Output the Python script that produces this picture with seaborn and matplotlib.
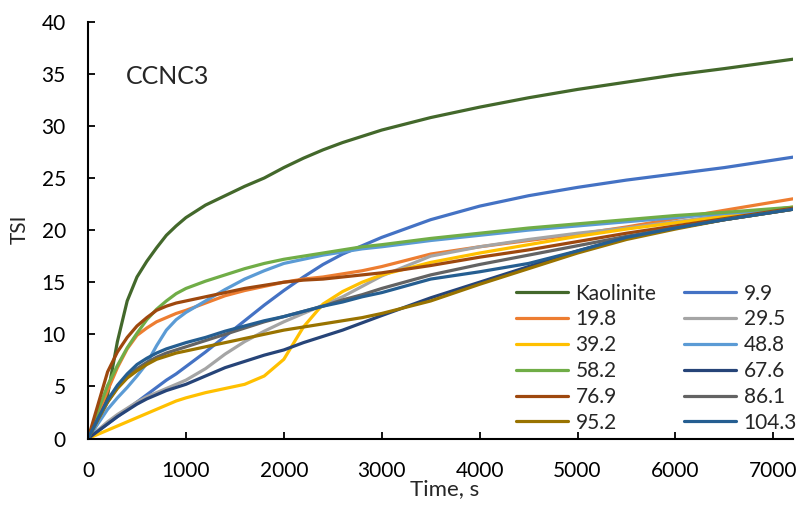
import numpy as np
import pandas as pd
import matplotlib
matplotlib.use("Agg")
import matplotlib.pyplot as plt
import seaborn as sns

# time axis, s
time = [0, 100, 200, 300, 400, 500, 600, 700, 800, 900, 1000, 1200, 1400, 1600, 1800,
        2000, 2200, 2400, 2600, 2800, 3000, 3500, 4000, 4500, 5000, 5500, 6000, 6500, 7200]

# TSI readings per sample
kaolinite = [0, 1.5, 4.2, 9.3, 13.2, 15.5, 17.0, 18.3, 19.5, 20.4, 21.2, 22.4, 23.3, 24.2, 25.0,
             26.0, 26.9, 27.7, 28.4, 29.0, 29.6, 30.8, 31.8, 32.7, 33.5, 34.2, 34.9, 35.5, 36.4]
s9_9 = [0, 0.7, 1.4, 2.1, 2.8, 3.5, 4.2, 4.9, 5.6, 6.2, 6.9, 8.3, 9.8, 11.3, 12.8,
        14.2, 15.5, 16.7, 17.7, 18.5, 19.3, 21.0, 22.3, 23.3, 24.1, 24.8, 25.4, 26.0, 27.0]
s19_8 = [0, 2.3, 4.6, 6.8, 8.6, 9.9, 10.6, 11.2, 11.6, 12.0, 12.3, 13.0, 13.7, 14.2, 14.6,
         15.0, 15.3, 15.5, 15.8, 16.1, 16.5, 17.7, 18.4, 19.0, 19.6, 20.3, 21.1, 21.9, 23.0]
s29_5 = [0, 0.8, 1.6, 2.3, 2.9, 3.5, 4.0, 4.4, 4.8, 5.2, 5.6, 6.7, 8.1, 9.3, 10.3,
         11.2, 12.0, 12.8, 13.6, 14.6, 15.6, 17.5, 18.4, 19.1, 19.7, 20.2, 20.8, 21.4, 22.2]
s39_2 = [0, 0.4, 0.8, 1.2, 1.6, 2.0, 2.4, 2.8, 3.2, 3.6, 3.9, 4.4, 4.8, 5.2, 6.0,
         7.6, 10.7, 12.9, 14.1, 15.0, 15.7, 16.9, 17.8, 18.6, 19.4, 20.1, 20.7, 21.3, 22.2]
s48_8 = [0, 1.4, 2.8, 3.9, 4.9, 6.0, 7.2, 8.9, 10.4, 11.4, 12.1, 13.2, 14.3, 15.3, 16.1,
         16.8, 17.2, 17.6, 17.9, 18.2, 18.4, 19.0, 19.5, 20.0, 20.4, 20.8, 21.2, 21.6, 22.0]
s58_2 = [0, 2.6, 5.1, 7.0, 8.7, 10.1, 11.4, 12.4, 13.2, 13.9, 14.4, 15.1, 15.7, 16.3, 16.8,
         17.2, 17.5, 17.8, 18.1, 18.4, 18.6, 19.2, 19.7, 20.2, 20.6, 21.0, 21.4, 21.7, 22.2]
s67_6 = [0, 0.7, 1.4, 2.1, 2.7, 3.3, 3.8, 4.2, 4.6, 4.9, 5.2, 6.0, 6.8, 7.4, 8.0,
         8.5, 9.2, 9.8, 10.4, 11.1, 11.8, 13.5, 15.0, 16.5, 18.0, 19.3, 20.2, 21.0, 22.0]
s76_9 = [0, 3.2, 6.4, 8.3, 9.7, 10.8, 11.6, 12.3, 12.7, 13.0, 13.2, 13.6, 14.0, 14.4, 14.7,
         15.0, 15.2, 15.3, 15.5, 15.7, 15.9, 16.6, 17.4, 18.1, 18.9, 19.7, 20.4, 21.1, 22.1]
s86_1 = [0, 1.8, 3.5, 4.9, 5.9, 6.7, 7.3, 7.8, 8.2, 8.5, 8.8, 9.4, 10.0, 10.6, 11.2,
         11.7, 12.2, 12.7, 13.3, 13.8, 14.4, 15.7, 16.7, 17.6, 18.5, 19.4, 20.2, 21.0, 22.0]
s95_2 = [0, 1.8, 3.5, 4.8, 5.8, 6.5, 7.1, 7.6, 7.9, 8.2, 8.4, 8.8, 9.2, 9.6, 10.0,
         10.4, 10.7, 11.0, 11.3, 11.6, 12.0, 13.2, 14.8, 16.3, 17.8, 19.1, 20.1, 21.0, 22.0]
s104_3 = [0, 1.9, 3.7, 5.1, 6.2, 7.1, 7.7, 8.2, 8.6, 8.9, 9.2, 9.7, 10.3, 10.8, 11.3,
          11.7, 12.2, 12.7, 13.1, 13.6, 14.0, 15.3, 16.0, 16.8, 18.0, 19.3, 20.2, 21.0, 22.0]

names = ["Kaolinite", "9.9", "19.8", "29.5", "39.2", "48.8",
         "58.2", "67.6", "76.9", "86.1", "95.2", "104.3"]
series = [kaolinite, s9_9, s19_8, s29_5, s39_2, s48_8,
          s58_2, s67_6, s76_9, s86_1, s95_2, s104_3]
colors = ["#43682B", "#4472C4", "#ED7D31", "#A5A5A5", "#FFC000", "#5B9BD5",
          "#70AD47", "#264478", "#9E480E", "#636363", "#997300", "#255E91"]

df = pd.concat([pd.DataFrame({"t": time, "TSI": v, "s": n})
                for n, v in zip(names, series)], ignore_index=True)

sns.set_style("ticks")
plt.rcParams["font.family"] = ["Lato", "DejaVu Sans"]

fig = plt.figure(figsize=(8.01, 5.08), dpi=100)
ax = fig.add_axes([0.1099, 0.1368, 0.880, 0.8205])

for n, c in zip(names, colors):
    sns.lineplot(data=df[df.s == n], x="t", y="TSI", color=c, lw=2.3,
                 ax=ax, label=n, legend=False)

ax.set_xlim(0, 7200)
ax.set_ylim(0, 40)
ax.set_xticks(range(0, 8000, 1000))
ax.set_yticks(range(0, 45, 5))
ax.tick_params(labelsize=15, direction="in", length=5, width=1.3,
               colors="black", pad=16)
for sp in ["top", "right"]:
    ax.spines[sp].set_visible(False)
for sp in ["left", "bottom"]:
    ax.spines[sp].set_linewidth(1.5)
    ax.spines[sp].set_color("black")

ax.set_xlabel("Time, s", fontsize=16)
ax.xaxis.set_label_coords(0.506, -0.098)
ax.set_ylabel("TSI", fontsize=15)
ax.yaxis.set_label_coords(-0.083, 0.502)
ax.text(0.054, 0.868, "CCNC3", transform=ax.transAxes, fontsize=18,
        ha="left", va="center")

# legend filled row by row (2 cols)
h, l = ax.get_legend_handles_labels()
order = list(range(0, 12, 2)) + list(range(1, 12, 2))
ax.legend([h[i] for i in order], [l[i] for i in order], ncol=2, frameon=False,
          loc="lower right", bbox_to_anchor=(1.006, 0.014), fontsize=15,
          handlelength=2.5, handletextpad=0.35, columnspacing=1.35,
          labelspacing=0.28, borderpad=0, borderaxespad=0)

fig.savefig("out.png", dpi=100)
